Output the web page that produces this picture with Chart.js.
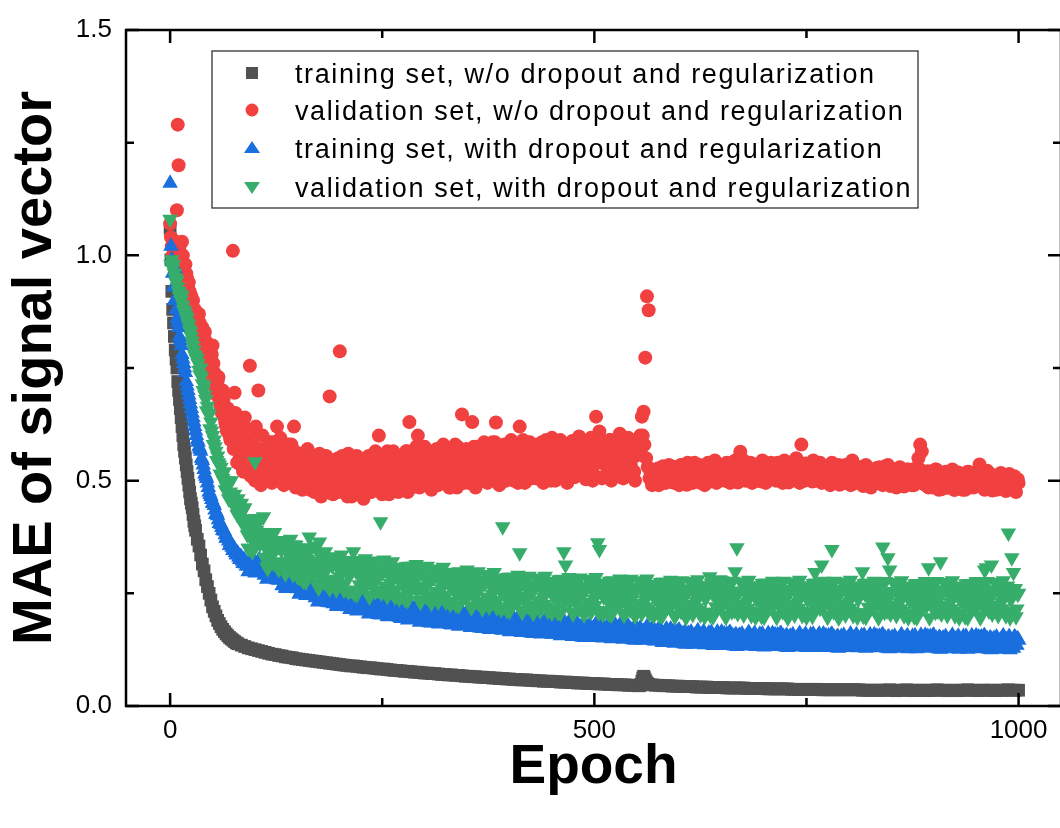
<!DOCTYPE html>
<html>
<head>
<meta charset="utf-8">
<title>MAE vs Epoch</title>
<script src="https://cdn.jsdelivr.net/npm/chart.js@4.4.1/dist/chart.umd.min.js"></script>
<style>
  html, body { margin: 0; padding: 0; background: #fff; overflow: hidden; }
  canvas { display: block; }
</style>
</head>
<body>
<canvas id="maeChart" width="1070" height="828"></canvas>
<script>
// epoch grid for the smooth training curve (w/o regularization)
const epochsCoarse = [];
for (let e = 0; e <= 30; e++) epochsCoarse.push(e);
for (let e = 32; e <= 80; e += 2) epochsCoarse.push(e);
for (let e = 84; e <= 552; e += 4) epochsCoarse.push(e);
for (let e = 553; e <= 563; e++) epochsCoarse.push(e);
for (let e = 564; e <= 1000; e += 4) epochsCoarse.push(e);

// epoch grids for the noisy curves: 0-30, then even epochs, plus the odd epochs
const epochsEven = [];
for (let e = 0; e <= 30; e++) epochsEven.push(e);
for (let e = 32; e <= 1000; e += 2) epochsEven.push(e);
const epochsOdd = [];
for (let e = 31; e <= 999; e += 2) epochsOdd.push(e);

const seriesNames = [
    'training set, w/o dropout and regularization',
    'validation set, w/o dropout and regularization',
    'training set, with dropout and regularization',
    'validation set, with dropout and regularization'
];

const xTicks = [0, 500, 1000];
const xMinorTicks = [250, 750];
const yTicks = [0, 0.5, 1.0, 1.5];
const yMinorTicks = [0.25, 0.75, 1.25];

// training set, w/o dropout and regularization (epochsCoarse)
const trainPlain = [
    1.06,0.99,0.92,0.88,0.85,0.82,0.79,0.77,0.75,0.72,
    0.70,0.68,0.66,0.64,0.62,0.60,0.58,0.565,0.55,0.535,
    0.52,0.505,0.49,0.475,0.46,0.45,0.44,0.425,0.41,0.40,0.39,
    // 32-80
    0.37,0.355,0.335,0.315,0.30,0.28,0.265,0.25,0.235,0.22,
    0.21,0.20,0.19,0.183,0.176,0.17,0.165,0.16,0.156,0.152,
    0.149,0.146,0.143,0.14,0.138,
    // 84-552
    0.135,0.132,0.129,0.127,0.125,0.123,0.121,0.119,0.117,0.115,
    0.114,0.112,0.111,0.109,0.108,0.107,0.105,0.104,0.103,0.102,
    0.101,0.100,0.099,0.098,0.097,0.096,0.095,0.094,0.093,0.092,
    0.091,0.090,0.089,0.089,0.088,0.087,0.086,0.085,0.085,0.084,
    0.083,0.082,0.082,0.081,0.080,0.079,0.079,0.078,0.077,0.077,
    0.076,0.075,0.075,0.074,0.073,0.073,0.072,0.072,0.071,0.070,
    0.070,0.069,0.069,0.068,0.068,0.067,0.066,0.066,0.065,0.065,
    0.064,0.064,0.063,0.063,0.062,0.062,0.061,0.061,0.060,0.060,
    0.059,0.059,0.058,0.058,0.058,0.057,0.057,0.056,0.056,0.055,
    0.055,0.055,0.054,0.054,0.053,0.053,0.053,0.052,0.052,0.051,
    0.051,0.051,0.050,0.050,0.050,0.049,0.049,0.049,0.048,0.048,
    0.048,0.047,0.047,0.047,0.046,0.046,0.046,0.045,
    // 553-563
    0.045,0.046,0.048,0.055,0.062,0.066,0.063,0.058,0.054,0.051,0.049,
    // 564-1000
    0.048,0.047,0.046,0.046,0.045,0.045,0.045,0.044,0.044,0.044,
    0.043,0.043,0.043,0.043,0.042,0.042,0.042,0.042,0.041,0.041,
    0.041,0.041,0.041,0.040,0.040,0.040,0.040,0.040,0.040,0.039,
    0.039,0.039,0.039,0.039,0.039,0.038,0.038,0.038,0.038,0.038,
    0.038,0.038,0.037,0.037,0.037,0.037,0.037,0.037,0.037,0.037,
    0.037,0.036,0.036,0.036,0.036,0.036,0.036,0.036,0.036,0.036,
    0.036,0.036,0.036,0.035,0.035,0.035,0.035,0.035,0.035,0.035,
    0.035,0.036,0.035,0.034,0.035,0.035,0.036,0.035,0.034,0.035,
    0.035,0.035,0.034,0.035,0.035,0.036,0.035,0.035,0.034,0.035,
    0.035,0.034,0.035,0.035,0.036,0.035,0.035,0.034,0.035,0.035,
    0.035,0.035,0.034,0.035,0.035,0.035,0.036,0.035,0.035,0.035
];

// validation set, w/o dropout and regularization (epochsEven)
const valPlain = [
    1.07,1.04,1.02,1.00,0.99,1.01,0.98,1.03,1.10,1.29,
    1.20,1.02,0.99,1.00,1.03,1.00,0.97,0.95,0.98,0.96,
    0.95,0.93,0.94,0.92,0.90,0.91,0.89,0.90,0.87,0.88,0.86,
    0.85,0.87,0.82,0.84,0.79,0.81,0.78,0.73,0.77,0.80,         // 32
    0.74,0.70,0.72,0.68,0.66,0.70,0.64,0.62,0.66,0.60,         // 52
    0.61,1.01,0.695,0.58,0.63,0.55,0.60,0.52,0.64,0.56,        // 72
    0.59,0.755,0.53,0.61,0.50,0.57,0.70,0.54,0.60,0.51,        // 92
    0.505,0.565,0.535,0.585,0.495,0.555,0.575,0.62,0.545,0.595, // 112
    0.545,0.49,0.57,0.515,0.58,0.50,0.535,0.62,0.485,0.55,     // 132
    0.495,0.56,0.48,0.535,0.51,0.57,0.49,0.54,0.555,0.475,     // 152
    0.545,0.50,0.56,0.465,0.52,0.49,0.555,0.475,0.687,0.51,    // 172
    0.47,0.53,0.50,0.55,0.787,0.52,0.54,0.48,0.51,0.56,        // 192
    0.52,0.465,0.545,0.49,0.555,0.475,0.51,0.535,0.46,0.525,   // 212
    0.49,0.555,0.475,0.53,0.505,0.565,0.485,0.60,0.55,0.47,    // 232
    0.55,0.505,0.565,0.47,0.525,0.495,0.56,0.48,0.54,0.515,    // 252
    0.485,0.545,0.515,0.565,0.475,0.63,0.555,0.495,0.525,0.575, // 272
    0.60,0.485,0.565,0.51,0.575,0.495,0.53,0.555,0.48,0.545,   // 292
    0.505,0.57,0.49,0.545,0.52,0.58,0.50,0.55,0.565,0.485,     // 312
    0.565,0.52,0.58,0.485,0.54,0.51,0.647,0.495,0.555,0.53,    // 332
    0.495,0.555,0.63,0.575,0.485,0.545,0.565,0.505,0.535,0.585, // 352
    0.55,0.495,0.575,0.52,0.585,0.505,0.629,0.565,0.49,0.555,  // 372
    0.515,0.58,0.50,0.555,0.53,0.59,0.51,0.56,0.575,0.495,     // 392
    0.62,0.53,0.59,0.495,0.55,0.52,0.585,0.505,0.565,0.54,     // 412
    0.505,0.565,0.535,0.585,0.495,0.555,0.575,0.515,0.545,0.595, // 432
    0.555,0.50,0.58,0.525,0.59,0.51,0.545,0.57,0.495,0.56,     // 452
    0.523,0.588,0.508,0.563,0.538,0.598,0.518,0.568,0.583,0.503, // 472
    0.58,0.535,0.595,0.50,0.555,0.642,0.59,0.609,0.57,0.545,   // 492
    0.51,0.57,0.54,0.59,0.50,0.56,0.58,0.52,0.55,0.604,        // 512
    0.56,0.505,0.585,0.53,0.595,0.515,0.55,0.575,0.50,0.565,   // 532
    0.58,0.60,0.642,0.653,0.773,0.909,0.878,0.52,0.49,0.51,    // 552
    0.50,0.525,0.49,0.52,0.505,0.53,0.495,0.515,0.535,0.50,    // 572
    0.525,0.495,0.53,0.51,0.49,0.535,0.505,0.52,0.50,0.54,     // 592
    0.505,0.53,0.495,0.54,0.515,0.50,0.535,0.51,0.525,0.49,    // 612
    0.52,0.54,0.50,0.53,0.51,0.545,0.495,0.525,0.535,0.505,    // 632
    0.53,0.50,0.54,0.515,0.495,0.535,0.51,0.545,0.52,0.50,     // 652
    0.564,0.52,0.545,0.50,0.53,0.51,0.54,0.495,0.525,0.515,    // 672
    0.50,0.535,0.51,0.545,0.52,0.495,0.53,0.505,0.54,0.515,    // 692
    0.525,0.50,0.54,0.51,0.53,0.495,0.545,0.515,0.505,0.535,   // 712
    0.51,0.54,0.52,0.55,0.515,0.495,0.58,0.53,0.50,0.525,      // 732
    0.535,0.505,0.52,0.545,0.50,0.53,0.51,0.54,0.495,0.525,    // 752
    0.50,0.53,0.515,0.49,0.54,0.505,0.525,0.495,0.535,0.51,    // 772
    0.52,0.495,0.535,0.505,0.53,0.49,0.545,0.51,0.50,0.525,    // 792
    0.505,0.53,0.49,0.52,0.535,0.50,0.515,0.485,0.525,0.51,    // 812
    0.52,0.495,0.53,0.505,0.49,0.525,0.51,0.535,0.495,0.515,   // 832
    0.50,0.525,0.485,0.515,0.53,0.495,0.52,0.505,0.49,0.525,   // 852
    0.51,0.49,0.52,0.50,0.525,0.55,0.58,0.565,0.505,0.49,      // 872
    0.515,0.485,0.52,0.50,0.49,0.525,0.505,0.48,0.515,0.495,   // 892
    0.50,0.52,0.485,0.51,0.495,0.525,0.48,0.505,0.515,0.49,    // 912
    0.505,0.48,0.515,0.495,0.52,0.485,0.50,0.51,0.49,0.515,    // 932
    0.50,0.536,0.49,0.51,0.48,0.505,0.495,0.515,0.485,0.50,    // 952
    0.51,0.48,0.50,0.49,0.515,0.485,0.505,0.495,0.48,0.51,     // 972
    0.49,0.505,0.485,0.50,0.495                                // 992
];

// validation set, w/o dropout and regularization (epochsOdd)
const valPlainOdd = [
    0.86,0.83,0.85,0.81,0.80,0.83,0.76,0.79,0.75,0.78,         // 31
    0.76,0.71,0.69,0.73,0.67,0.65,0.68,0.63,0.61,0.64,         // 51
    0.59,0.62,0.57,0.65,0.54,0.60,0.58,0.53,0.62,0.57,         // 71
    0.53,0.60,0.51,0.58,0.55,0.62,0.52,0.57,0.49,0.60,         // 91
    0.545,0.52,0.575,0.505,0.56,0.585,0.53,0.57,0.515,0.55,    // 111
    0.515,0.57,0.53,0.555,0.50,0.545,0.58,0.525,0.565,0.49,    // 131
    0.545,0.505,0.52,0.49,0.56,0.50,0.535,0.48,0.53,0.555,     // 151
    0.515,0.49,0.545,0.475,0.53,0.555,0.50,0.54,0.485,0.52,    // 171
    0.49,0.545,0.505,0.53,0.475,0.52,0.555,0.50,0.54,0.465,    // 191
    0.535,0.495,0.51,0.48,0.55,0.49,0.525,0.47,0.52,0.545,     // 211
    0.515,0.49,0.545,0.475,0.53,0.555,0.50,0.54,0.485,0.52,    // 231
    0.50,0.555,0.515,0.54,0.485,0.53,0.565,0.51,0.55,0.475,    // 251
    0.55,0.51,0.525,0.495,0.565,0.505,0.54,0.485,0.535,0.56,   // 271
    0.53,0.505,0.56,0.49,0.545,0.57,0.515,0.555,0.50,0.535,    // 291
    0.51,0.565,0.525,0.55,0.495,0.54,0.575,0.52,0.56,0.485,    // 311
    0.56,0.52,0.535,0.505,0.575,0.515,0.55,0.495,0.545,0.57,   // 331
    0.535,0.51,0.565,0.495,0.55,0.575,0.52,0.56,0.505,0.54,    // 351
    0.52,0.575,0.535,0.56,0.505,0.55,0.585,0.53,0.57,0.495,    // 371
    0.565,0.525,0.54,0.51,0.58,0.52,0.555,0.50,0.55,0.575,     // 391
    0.545,0.52,0.575,0.505,0.56,0.585,0.53,0.57,0.515,0.55,    // 411
    0.525,0.58,0.54,0.565,0.51,0.555,0.59,0.535,0.575,0.50,    // 431
    0.57,0.53,0.545,0.515,0.585,0.525,0.56,0.505,0.555,0.58,   // 451
    0.548,0.523,0.578,0.508,0.563,0.588,0.533,0.573,0.518,0.553, // 471
    0.53,0.585,0.545,0.57,0.515,0.56,0.595,0.54,0.58,0.505,    // 491
    0.575,0.535,0.55,0.52,0.59,0.53,0.565,0.51,0.56,0.585,     // 511
    0.55,0.525,0.58,0.51,0.565,0.59,0.535,0.575,0.52,0.555,    // 531
    0.56,0.59,0.57,0.60,0.58,0.55,0.53,0.505,0.525,0.495,      // 551
    0.512,0.499,0.527,0.492,0.52,0.532,0.504,0.525,0.497,0.515, // 571
    0.503,0.531,0.51,0.523,0.495,0.518,0.535,0.508,0.528,0.491, // 591
    0.528,0.507,0.515,0.50,0.535,0.505,0.523,0.495,0.52,0.533, // 611
    0.518,0.505,0.533,0.498,0.526,0.538,0.51,0.531,0.503,0.521, // 631
    0.508,0.536,0.515,0.528,0.50,0.523,0.54,0.513,0.533,0.496, // 651
    0.531,0.51,0.518,0.503,0.538,0.508,0.526,0.498,0.523,0.536, // 671
    0.518,0.505,0.533,0.498,0.526,0.538,0.51,0.531,0.503,0.521, // 691
    0.508,0.536,0.515,0.528,0.50,0.523,0.54,0.513,0.533,0.496, // 711
    0.533,0.512,0.52,0.505,0.54,0.51,0.528,0.50,0.525,0.538,   // 731
    0.518,0.505,0.533,0.498,0.526,0.538,0.51,0.531,0.503,0.521, // 751
    0.503,0.531,0.51,0.523,0.495,0.518,0.535,0.508,0.528,0.491, // 771
    0.526,0.505,0.513,0.498,0.533,0.503,0.521,0.493,0.518,0.531, // 791
    0.508,0.495,0.523,0.488,0.516,0.528,0.50,0.521,0.493,0.511, // 811
    0.50,0.528,0.507,0.52,0.492,0.515,0.532,0.505,0.525,0.488, // 831
    0.52,0.499,0.507,0.492,0.527,0.497,0.515,0.487,0.512,0.525, // 851
    0.51,0.497,0.525,0.49,0.518,0.53,0.502,0.523,0.495,0.513,  // 871
    0.493,0.521,0.50,0.513,0.485,0.508,0.525,0.498,0.518,0.481, // 891
    0.513,0.492,0.50,0.485,0.52,0.49,0.508,0.48,0.505,0.518,   // 911
    0.50,0.487,0.515,0.48,0.508,0.52,0.492,0.513,0.485,0.503,  // 931
    0.49,0.518,0.497,0.51,0.482,0.505,0.522,0.495,0.515,0.478, // 951
    0.51,0.489,0.497,0.482,0.517,0.487,0.505,0.477,0.502,0.515, // 971
    0.495,0.482,0.51,0.475,0.503                               // 991
];

// training set, with dropout and regularization (epochsEven)
const trainReg = [
    1.16,1.02,0.99,0.96,0.93,0.90,0.97,0.88,0.86,0.85,
    0.84,0.82,0.81,0.80,0.78,0.77,0.76,0.75,0.74,0.72,
    0.71,0.70,0.69,0.68,0.67,0.66,0.65,0.64,0.63,0.62,0.61,
    0.59,0.575,0.565,0.545,0.525,0.51,0.495,0.475,0.465,0.45,  // 32
    0.445,0.425,0.422,0.405,0.402,0.39,0.388,0.372,0.372,0.356, // 52
    0.36,0.345,0.348,0.335,0.338,0.325,0.33,0.316,0.322,0.31,  // 72
    0.298,0.318,0.306,0.324,0.295,0.313,0.321,0.302,0.31,0.315, // 92
    0.299,0.281,0.307,0.289,0.31,0.284,0.295,0.304,0.279,0.301, // 112
    0.267,0.288,0.262,0.28,0.272,0.291,0.265,0.282,0.286,0.26, // 132
    0.248,0.268,0.256,0.274,0.245,0.263,0.271,0.252,0.26,0.275, // 152
    0.249,0.231,0.257,0.239,0.26,0.234,0.245,0.254,0.229,0.251, // 172
    0.227,0.248,0.222,0.24,0.232,0.251,0.225,0.242,0.246,0.22, // 192
    0.214,0.234,0.222,0.24,0.211,0.229,0.237,0.218,0.226,0.241, // 212
    0.222,0.204,0.23,0.212,0.233,0.207,0.218,0.227,0.202,0.224, // 232
    0.204,0.225,0.199,0.217,0.209,0.228,0.202,0.219,0.223,0.197, // 252
    0.194,0.214,0.202,0.22,0.191,0.209,0.217,0.198,0.206,0.221, // 272
    0.204,0.186,0.212,0.194,0.215,0.189,0.2,0.209,0.184,0.206, // 292
    0.188,0.209,0.183,0.201,0.193,0.212,0.186,0.203,0.207,0.181, // 312
    0.18,0.2,0.188,0.206,0.177,0.195,0.203,0.184,0.192,0.207,  // 332
    0.192,0.174,0.2,0.182,0.203,0.177,0.188,0.197,0.172,0.194, // 352
    0.176,0.197,0.171,0.189,0.181,0.2,0.174,0.191,0.195,0.169, // 372
    0.168,0.188,0.176,0.194,0.165,0.183,0.191,0.172,0.18,0.195, // 392
    0.181,0.163,0.189,0.171,0.192,0.166,0.177,0.186,0.161,0.183, // 412
    0.166,0.187,0.161,0.179,0.171,0.19,0.164,0.181,0.185,0.159, // 432
    0.159,0.179,0.167,0.185,0.156,0.174,0.182,0.163,0.171,0.186, // 452
    0.172,0.154,0.18,0.162,0.183,0.157,0.168,0.177,0.152,0.174, // 472
    0.158,0.179,0.153,0.171,0.163,0.182,0.156,0.173,0.177,0.151, // 492
    0.152,0.172,0.16,0.178,0.149,0.167,0.175,0.156,0.164,0.179, // 512
    0.166,0.148,0.174,0.156,0.177,0.151,0.162,0.171,0.146,0.168, // 532
    0.152,0.173,0.147,0.165,0.157,0.176,0.15,0.167,0.171,0.145, // 552
    0.144,0.164,0.152,0.17,0.141,0.159,0.167,0.148,0.156,0.171, // 572
    0.157,0.139,0.165,0.147,0.168,0.142,0.153,0.162,0.137,0.159, // 592
    0.143,0.164,0.138,0.156,0.148,0.167,0.141,0.158,0.162,0.136, // 612
    0.137,0.157,0.145,0.163,0.134,0.152,0.16,0.141,0.149,0.164, // 632
    0.152,0.134,0.16,0.142,0.163,0.137,0.148,0.157,0.132,0.154, // 652
    0.139,0.16,0.134,0.152,0.144,0.163,0.137,0.154,0.158,0.132, // 672
    0.134,0.154,0.142,0.16,0.131,0.149,0.157,0.138,0.146,0.161, // 692
    0.15,0.132,0.158,0.14,0.161,0.135,0.146,0.155,0.13,0.152,  // 712
    0.137,0.158,0.132,0.15,0.142,0.161,0.135,0.152,0.156,0.13, // 732
    0.133,0.153,0.141,0.159,0.13,0.148,0.156,0.137,0.145,0.16, // 752
    0.148,0.13,0.156,0.138,0.159,0.133,0.144,0.153,0.128,0.15, // 772
    0.136,0.157,0.131,0.149,0.141,0.16,0.134,0.151,0.155,0.129, // 792
    0.131,0.151,0.139,0.157,0.128,0.146,0.154,0.135,0.143,0.158, // 812
    0.147,0.129,0.155,0.137,0.158,0.132,0.143,0.152,0.127,0.149, // 832
    0.134,0.155,0.129,0.147,0.139,0.158,0.132,0.149,0.153,0.127, // 852
    0.13,0.15,0.138,0.156,0.127,0.145,0.153,0.134,0.142,0.157, // 872
    0.146,0.128,0.154,0.136,0.157,0.131,0.142,0.151,0.126,0.148, // 892
    0.133,0.154,0.128,0.146,0.138,0.157,0.131,0.148,0.152,0.126, // 912
    0.129,0.149,0.137,0.155,0.126,0.144,0.152,0.133,0.141,0.156, // 932
    0.145,0.127,0.153,0.135,0.156,0.13,0.141,0.15,0.125,0.147, // 952
    0.132,0.153,0.127,0.145,0.137,0.156,0.13,0.147,0.151,0.125, // 972
    0.14,0.128,0.152,0.135,0.146                               // 992
];

// training set, with dropout and regularization (epochsOdd)
const trainRegOdd = [
    0.60,0.585,0.57,0.55,0.535,0.515,0.505,0.485,0.47,0.458,   // 31
    0.45,0.435,0.428,0.413,0.405,0.396,0.39,0.38,0.375,0.366,  // 51
    0.362,0.352,0.35,0.34,0.34,0.33,0.332,0.322,0.325,0.315,   // 71
    0.316,0.30,0.323,0.306,0.319,0.297,0.312,0.325,0.303,0.321, // 91
    0.29,0.307,0.283,0.299,0.309,0.286,0.303,0.28,0.305,0.293, // 111
    0.285,0.269,0.278,0.261,0.282,0.287,0.264,0.28,0.272,0.289, // 131
    0.266,0.25,0.273,0.256,0.269,0.247,0.262,0.275,0.253,0.271, // 151
    0.24,0.257,0.233,0.249,0.259,0.236,0.253,0.23,0.255,0.243, // 171
    0.245,0.229,0.238,0.221,0.242,0.247,0.224,0.24,0.232,0.249, // 191
    0.232,0.216,0.239,0.222,0.235,0.213,0.228,0.241,0.219,0.237, // 211
    0.213,0.23,0.206,0.222,0.232,0.209,0.226,0.203,0.228,0.216, // 231
    0.222,0.206,0.215,0.198,0.219,0.224,0.201,0.217,0.209,0.226, // 251
    0.212,0.196,0.219,0.202,0.215,0.193,0.208,0.221,0.199,0.217, // 271
    0.195,0.212,0.188,0.204,0.214,0.191,0.208,0.185,0.21,0.198, // 291
    0.206,0.19,0.199,0.182,0.203,0.208,0.185,0.201,0.193,0.21, // 311
    0.198,0.182,0.205,0.188,0.201,0.179,0.194,0.207,0.185,0.203, // 331
    0.183,0.2,0.176,0.192,0.202,0.179,0.196,0.173,0.198,0.186, // 351
    0.194,0.178,0.187,0.17,0.191,0.196,0.173,0.189,0.181,0.198, // 371
    0.186,0.17,0.193,0.176,0.189,0.167,0.182,0.195,0.173,0.191, // 391
    0.172,0.189,0.165,0.181,0.191,0.168,0.185,0.162,0.187,0.175, // 411
    0.184,0.168,0.177,0.16,0.181,0.186,0.163,0.179,0.171,0.188, // 431
    0.177,0.161,0.184,0.167,0.18,0.158,0.173,0.186,0.164,0.182, // 451
    0.163,0.18,0.156,0.172,0.182,0.159,0.176,0.153,0.178,0.166, // 471
    0.176,0.16,0.169,0.152,0.173,0.178,0.155,0.171,0.163,0.18, // 491
    0.17,0.154,0.177,0.16,0.173,0.151,0.166,0.179,0.157,0.175, // 511
    0.157,0.174,0.15,0.166,0.176,0.153,0.17,0.147,0.172,0.16,  // 531
    0.17,0.154,0.163,0.146,0.167,0.172,0.149,0.165,0.157,0.174, // 551
    0.162,0.146,0.169,0.152,0.165,0.143,0.158,0.171,0.149,0.167, // 571
    0.148,0.165,0.141,0.157,0.167,0.144,0.161,0.138,0.163,0.151, // 591
    0.161,0.145,0.154,0.137,0.158,0.163,0.14,0.156,0.148,0.165, // 611
    0.155,0.139,0.162,0.145,0.158,0.136,0.151,0.164,0.142,0.16, // 631
    0.143,0.16,0.136,0.152,0.162,0.139,0.156,0.133,0.158,0.146, // 651
    0.157,0.141,0.15,0.133,0.154,0.159,0.136,0.152,0.144,0.161, // 671
    0.152,0.136,0.159,0.142,0.155,0.133,0.148,0.161,0.139,0.157, // 691
    0.141,0.158,0.134,0.15,0.16,0.137,0.154,0.131,0.156,0.144, // 711
    0.155,0.139,0.148,0.131,0.152,0.157,0.134,0.15,0.142,0.159, // 731
    0.151,0.135,0.158,0.141,0.154,0.132,0.147,0.16,0.138,0.156, // 751
    0.139,0.156,0.132,0.148,0.158,0.135,0.152,0.129,0.154,0.142, // 771
    0.154,0.138,0.147,0.13,0.151,0.156,0.133,0.149,0.141,0.158, // 791
    0.149,0.133,0.156,0.139,0.152,0.13,0.145,0.158,0.136,0.154, // 811
    0.138,0.155,0.131,0.147,0.157,0.134,0.151,0.128,0.153,0.141, // 831
    0.152,0.136,0.145,0.128,0.149,0.154,0.131,0.147,0.139,0.156, // 851
    0.148,0.132,0.155,0.138,0.151,0.129,0.144,0.157,0.135,0.153, // 871
    0.137,0.154,0.13,0.146,0.156,0.133,0.15,0.127,0.152,0.14,  // 891
    0.151,0.135,0.144,0.127,0.148,0.153,0.13,0.146,0.138,0.155, // 911
    0.147,0.131,0.154,0.137,0.15,0.128,0.143,0.156,0.134,0.152, // 931
    0.136,0.153,0.129,0.145,0.155,0.132,0.149,0.126,0.151,0.139, // 951
    0.15,0.134,0.143,0.126,0.147,0.152,0.129,0.145,0.137,0.154, // 971
    0.146,0.13,0.153,0.136,0.149                               // 991
];

// validation set, with dropout and regularization (epochsEven)
const valReg = [
    1.08,0.98,0.99,0.97,0.98,0.96,0.95,0.94,0.945,0.93,
    0.92,0.91,0.915,0.90,0.91,0.89,0.88,0.875,0.87,0.865,
    0.86,0.85,0.845,0.835,0.83,0.82,0.81,0.80,0.79,0.78,0.775,
    0.77,0.745,0.75,0.715,0.71,0.68,0.665,0.645,0.63,0.60,     // 32
    0.59,0.565,0.555,0.535,0.53,0.505,0.52,0.49,0.50,0.47,     // 52
    0.50,0.455,0.47,0.435,0.46,0.425,0.45,0.41,0.44,0.405,     // 72
    0.35,0.40,0.37,0.415,0.542,0.39,0.408,0.36,0.38,0.42,      // 92
    0.353,0.309,0.375,0.33,0.383,0.317,0.345,0.367,0.303,0.36, // 112
    0.306,0.361,0.293,0.34,0.322,0.37,0.302,0.346,0.356,0.288, // 132
    0.285,0.335,0.305,0.35,0.275,0.325,0.375,0.295,0.315,0.355, // 152
    0.31,0.266,0.364,0.287,0.34,0.274,0.302,0.324,0.26,0.317,  // 172
    0.271,0.326,0.258,0.305,0.287,0.335,0.267,0.311,0.321,0.253, // 192
    0.257,0.307,0.342,0.322,0.247,0.297,0.315,0.267,0.287,0.327, // 212
    0.29,0.246,0.312,0.267,0.32,0.254,0.282,0.304,0.409,0.297, // 232
    0.324,0.311,0.243,0.29,0.272,0.32,0.252,0.296,0.306,0.238, // 252
    0.244,0.294,0.264,0.309,0.234,0.284,0.302,0.31,0.274,0.314, // 272
    0.309,0.234,0.30,0.255,0.308,0.242,0.27,0.292,0.228,0.285, // 292
    0.244,0.299,0.231,0.278,0.26,0.308,0.24,0.284,0.294,0.226, // 312
    0.232,0.282,0.252,0.297,0.222,0.272,0.29,0.242,0.262,0.302, // 332
    0.266,0.222,0.288,0.243,0.296,0.23,0.258,0.28,0.216,0.273, // 352
    0.232,0.287,0.219,0.266,0.248,0.296,0.228,0.272,0.282,0.214, // 372
    0.398,0.27,0.24,0.285,0.21,0.26,0.278,0.23,0.25,0.29,      // 392
    0.34,0.212,0.278,0.233,0.286,0.22,0.248,0.27,0.206,0.263,  // 412
    0.224,0.279,0.211,0.258,0.24,0.288,0.22,0.264,0.274,0.206, // 432
    0.215,0.265,0.235,0.28,0.205,0.255,0.342,0.313,0.245,0.285, // 452
    0.252,0.208,0.274,0.229,0.282,0.216,0.244,0.266,0.202,0.259, // 472
    0.221,0.276,0.208,0.255,0.237,0.285,0.362,0.347,0.271,0.203, // 492
    0.212,0.262,0.232,0.277,0.202,0.252,0.27,0.222,0.242,0.282, // 512
    0.249,0.205,0.271,0.226,0.279,0.213,0.241,0.263,0.199,0.256, // 532
    0.218,0.273,0.205,0.252,0.234,0.282,0.214,0.258,0.268,0.20, // 552
    0.209,0.259,0.229,0.274,0.199,0.249,0.267,0.219,0.239,0.279, // 572
    0.246,0.202,0.268,0.223,0.276,0.21,0.238,0.26,0.196,0.253, // 592
    0.216,0.271,0.203,0.25,0.232,0.28,0.212,0.256,0.266,0.198, // 612
    0.208,0.258,0.287,0.273,0.198,0.248,0.266,0.218,0.28,0.278, // 632
    0.245,0.201,0.267,0.222,0.275,0.209,0.237,0.298,0.351,0.252, // 652
    0.215,0.27,0.202,0.249,0.231,0.279,0.211,0.255,0.265,0.197, // 672
    0.207,0.257,0.227,0.272,0.197,0.247,0.265,0.217,0.237,0.277, // 692
    0.245,0.201,0.267,0.222,0.275,0.209,0.237,0.259,0.195,0.252, // 712
    0.215,0.27,0.202,0.249,0.231,0.279,0.211,0.255,0.265,0.197, // 732
    0.207,0.257,0.227,0.272,0.296,0.247,0.265,0.217,0.313,0.277, // 752
    0.245,0.201,0.267,0.222,0.347,0.209,0.237,0.259,0.195,0.252, // 772
    0.215,0.27,0.202,0.249,0.231,0.279,0.211,0.255,0.265,0.197, // 792
    0.207,0.257,0.298,0.272,0.197,0.247,0.265,0.217,0.237,0.277, // 812
    0.244,0.20,0.266,0.221,0.353,0.208,0.236,0.329,0.302,0.251, // 832
    0.214,0.269,0.201,0.248,0.23,0.278,0.21,0.254,0.264,0.196, // 852
    0.206,0.256,0.226,0.271,0.196,0.246,0.264,0.216,0.236,0.276, // 872
    0.244,0.307,0.266,0.221,0.274,0.208,0.236,0.258,0.32,0.251, // 892
    0.214,0.269,0.201,0.248,0.23,0.278,0.21,0.254,0.264,0.196, // 912
    0.206,0.256,0.226,0.271,0.196,0.246,0.264,0.216,0.236,0.276, // 932
    0.244,0.20,0.266,0.221,0.302,0.307,0.236,0.258,0.313,0.251, // 952
    0.214,0.269,0.201,0.248,0.23,0.278,0.21,0.254,0.384,0.196, // 972
    0.329,0.296,0.26,0.215,0.25                                 // 992
];

// validation set, with dropout and regularization (epochsOdd)
const valRegOdd = [
    0.77,0.76,0.735,0.73,0.70,0.69,0.655,0.65,0.615,0.61,      // 31
    0.58,0.575,0.545,0.54,0.515,0.51,0.50,0.48,0.485,0.46,     // 51
    0.475,0.46,0.445,0.45,0.425,0.44,0.415,0.43,0.40,0.415,    // 71
    0.38,0.35,0.405,0.342,0.392,0.416,0.362,0.41,0.37,0.385,   // 91
    0.33,0.365,0.305,0.377,0.34,0.36,0.385,0.32,0.353,0.313,   // 111
    0.346,0.316,0.366,0.30,0.35,0.308,0.333,0.292,0.358,0.338, // 131
    0.315,0.285,0.34,0.277,0.327,0.351,0.297,0.345,0.305,0.32, // 151
    0.287,0.322,0.262,0.334,0.297,0.317,0.342,0.277,0.31,0.27, // 171
    0.311,0.281,0.331,0.265,0.315,0.273,0.298,0.257,0.323,0.303, // 191
    0.287,0.257,0.312,0.249,0.299,0.323,0.269,0.317,0.277,0.292, // 211
    0.267,0.302,0.242,0.314,0.277,0.297,0.322,0.257,0.29,0.25, // 231
    0.296,0.266,0.316,0.25,0.30,0.258,0.283,0.242,0.308,0.288, // 251
    0.274,0.244,0.299,0.236,0.286,0.31,0.256,0.304,0.264,0.279, // 271
    0.255,0.29,0.23,0.302,0.265,0.285,0.31,0.245,0.278,0.238,  // 291
    0.284,0.254,0.304,0.238,0.288,0.246,0.271,0.23,0.296,0.276, // 311
    0.262,0.232,0.287,0.224,0.274,0.298,0.244,0.292,0.252,0.267, // 331
    0.243,0.278,0.218,0.29,0.253,0.273,0.298,0.233,0.266,0.226, // 351
    0.272,0.242,0.292,0.226,0.276,0.234,0.259,0.218,0.284,0.264, // 371
    0.25,0.22,0.275,0.212,0.262,0.286,0.232,0.28,0.24,0.255,   // 391
    0.233,0.268,0.208,0.28,0.243,0.263,0.288,0.223,0.256,0.216, // 411
    0.264,0.234,0.284,0.218,0.268,0.226,0.251,0.21,0.276,0.256, // 431
    0.245,0.215,0.27,0.207,0.257,0.281,0.227,0.275,0.235,0.25, // 451
    0.229,0.264,0.204,0.276,0.239,0.259,0.284,0.219,0.252,0.212, // 471
    0.261,0.231,0.281,0.215,0.265,0.223,0.248,0.207,0.273,0.253, // 491
    0.242,0.212,0.267,0.204,0.254,0.278,0.224,0.272,0.232,0.247, // 511
    0.226,0.261,0.201,0.273,0.236,0.256,0.281,0.216,0.249,0.209, // 531
    0.258,0.228,0.278,0.212,0.262,0.22,0.245,0.204,0.27,0.25,  // 551
    0.239,0.209,0.264,0.201,0.251,0.275,0.221,0.269,0.229,0.244, // 571
    0.223,0.258,0.198,0.27,0.233,0.253,0.278,0.213,0.246,0.206, // 591
    0.256,0.226,0.276,0.21,0.26,0.218,0.243,0.202,0.268,0.248, // 611
    0.238,0.208,0.263,0.20,0.25,0.274,0.22,0.268,0.228,0.243,  // 631
    0.222,0.257,0.197,0.269,0.232,0.252,0.277,0.212,0.245,0.205, // 651
    0.255,0.225,0.275,0.209,0.259,0.217,0.242,0.201,0.267,0.247, // 671
    0.237,0.207,0.262,0.199,0.249,0.273,0.219,0.267,0.227,0.242, // 691
    0.222,0.257,0.197,0.269,0.232,0.252,0.277,0.212,0.245,0.205, // 711
    0.255,0.225,0.275,0.209,0.259,0.217,0.242,0.201,0.267,0.247, // 731
    0.237,0.207,0.262,0.199,0.249,0.273,0.219,0.267,0.227,0.242, // 751
    0.222,0.257,0.197,0.269,0.232,0.252,0.277,0.212,0.245,0.205, // 771
    0.255,0.225,0.275,0.209,0.259,0.217,0.242,0.201,0.267,0.247, // 791
    0.237,0.207,0.262,0.199,0.249,0.273,0.219,0.267,0.227,0.242, // 811
    0.221,0.256,0.196,0.268,0.231,0.251,0.276,0.211,0.244,0.204, // 831
    0.254,0.224,0.274,0.208,0.258,0.216,0.241,0.20,0.266,0.246, // 851
    0.236,0.206,0.261,0.198,0.248,0.272,0.218,0.266,0.226,0.241, // 871
    0.221,0.256,0.196,0.268,0.231,0.251,0.276,0.211,0.244,0.204, // 891
    0.254,0.224,0.274,0.208,0.258,0.216,0.241,0.20,0.266,0.246, // 911
    0.236,0.206,0.261,0.198,0.248,0.272,0.218,0.266,0.226,0.241, // 931
    0.221,0.256,0.196,0.268,0.231,0.251,0.276,0.211,0.244,0.204, // 951
    0.254,0.224,0.274,0.208,0.258,0.216,0.241,0.20,0.266,0.246, // 971
    0.236,0.206,0.261,0.198,0.248                               // 991
];

const colors = ['#515151', '#F14040', '#1A6FDF', '#37AD6B'];
const fontFamily = 'Arial, "Liberation Sans", sans-serif';

function toPoints(xs, values) {
    return xs.map((e, i) => ({ x: e, y: values[i] }));
}

// axis frame on all four sides with inward ticks
const framePlugin = {
    id: 'frame',
    afterDatasetsDraw(chart) {
        const { ctx, chartArea: a, scales: { x, y } } = chart;
        ctx.save();
        ctx.strokeStyle = '#000';
        ctx.lineWidth = 2.5;
        ctx.strokeRect(a.left, a.top, a.right - a.left, a.bottom - a.top);
        ctx.beginPath();
        const xMark = (v, len) => {
            const px = x.getPixelForValue(v);
            ctx.moveTo(px, a.bottom); ctx.lineTo(px, a.bottom - len);
            ctx.moveTo(px, a.top); ctx.lineTo(px, a.top + len);
        };
        const yMark = (v, len) => {
            const py = y.getPixelForValue(v);
            ctx.moveTo(a.left, py); ctx.lineTo(a.left + len, py);
            ctx.moveTo(a.right, py); ctx.lineTo(a.right - len, py);
        };
        xTicks.forEach(v => xMark(v, 13));
        xMinorTicks.forEach(v => xMark(v, 8));
        yTicks.forEach(v => yMark(v, 13));
        yMinorTicks.forEach(v => yMark(v, 8));
        ctx.stroke();
        ctx.restore();
    }
};

// boxed legend in the upper part of the plot
const legendPlugin = {
    id: 'boxLegend',
    afterDraw(chart) {
        const ctx = chart.ctx;
        const box = { left: 212, top: 51, right: 918, bottom: 208 };
        const rows = [73, 110, 148, 187];
        const markX = 252;
        ctx.save();
        ctx.fillStyle = '#fff';
        ctx.fillRect(box.left, box.top, box.right - box.left, box.bottom - box.top);
        ctx.strokeStyle = '#222';
        ctx.lineWidth = 1.2;
        ctx.strokeRect(box.left, box.top, box.right - box.left, box.bottom - box.top);

        rows.forEach((ry, i) => {
            ctx.fillStyle = colors[i];
            ctx.beginPath();
            if (i === 0) {
                ctx.rect(markX - 6, ry - 6, 12, 12);
            } else if (i === 1) {
                ctx.arc(markX, ry, 6.5, 0, Math.PI * 2);
            } else if (i === 2) {
                ctx.moveTo(markX, ry - 7);
                ctx.lineTo(markX + 8, ry + 5);
                ctx.lineTo(markX - 8, ry + 5);
            } else {
                ctx.moveTo(markX, ry + 7);
                ctx.lineTo(markX + 8, ry - 5);
                ctx.lineTo(markX - 8, ry - 5);
            }
            ctx.closePath();
            ctx.fill();
        });

        ctx.fillStyle = '#000';
        ctx.font = '27px ' + fontFamily;
        ctx.textBaseline = 'alphabetic';
        ctx.textAlign = 'left';
        if ('letterSpacing' in ctx) ctx.letterSpacing = '1.6px';
        rows.forEach((ry, i) => ctx.fillText(seriesNames[i], 295, ry + 10));
        ctx.restore();
    }
};

const ctx = document.getElementById('maeChart').getContext('2d');

new Chart(ctx, {
    type: 'scatter',
    data: {
        datasets: [
            { label: seriesNames[0], data: toPoints(epochsCoarse, trainPlain), order: 3,
              pointStyle: 'rect', pointRadius: 9, backgroundColor: colors[0] },
            { label: seriesNames[1],
              data: toPoints(epochsEven, valPlain).concat(toPoints(epochsOdd, valPlainOdd)), order: 2,
              pointStyle: 'circle', pointRadius: 7, backgroundColor: colors[1] },
            { label: seriesNames[2],
              data: toPoints(epochsEven, trainReg).concat(toPoints(epochsOdd, trainRegOdd)), order: 1,
              pointStyle: 'triangle', pointRadius: 9, backgroundColor: colors[2] },
            { label: seriesNames[3],
              data: toPoints(epochsEven, valReg).concat(toPoints(epochsOdd, valRegOdd)), order: 0,
              pointStyle: 'triangle', pointRotation: 180, pointRadius: 9, backgroundColor: colors[3] }
        ].map(ds => Object.assign(ds, {
            borderWidth: 0,
            pointBorderWidth: 0,
            pointHoverRadius: ds.pointRadius,
            showLine: false,
            clip: false
        }))
    },
    options: {
        responsive: false,
        animation: false,
        events: [],
        layout: { padding: { left: 0, right: 8, top: 30, bottom: 0 } },
        plugins: {
            legend: { display: false },
            tooltip: { enabled: false }
        },
        scales: {
            x: {
                type: 'linear',
                min: -52,
                max: 1050,
                afterFit(scale) { scale.height = 122; },
                afterBuildTicks(scale) { scale.ticks = xTicks.map(v => ({ value: v })); },
                grid: { display: false, drawTicks: false },
                border: { display: false },
                ticks: {
                    color: '#000',
                    font: { family: fontFamily, size: 26 },
                    padding: 9,
                    maxRotation: 0,
                    autoSkip: false,
                    callback: v => String(v)
                },
                title: {
                    display: true,
                    text: 'Epoch',
                    color: '#000',
                    font: { family: fontFamily, size: 55, weight: 'bold' },
                    padding: { top: 0, bottom: 27 }
                }
            },
            y: {
                type: 'linear',
                min: 0,
                max: 1.5,
                afterFit(scale) { scale.width = 126; },
                afterBuildTicks(scale) { scale.ticks = yTicks.map(v => ({ value: v })); },
                grid: { display: false, drawTicks: false },
                border: { display: false },
                ticks: {
                    color: '#000',
                    font: { family: fontFamily, size: 26 },
                    padding: 14,
                    callback: v => v.toFixed(1)
                },
                title: {
                    display: true,
                    text: 'MAE of signal vector',
                    color: '#000',
                    font: { family: fontFamily, size: 56, weight: 'bold' },
                    padding: { top: 1.5, bottom: 0 }
                }
            }
        }
    },
    plugins: [framePlugin, legendPlugin]
});
</script>
</body>
</html>
